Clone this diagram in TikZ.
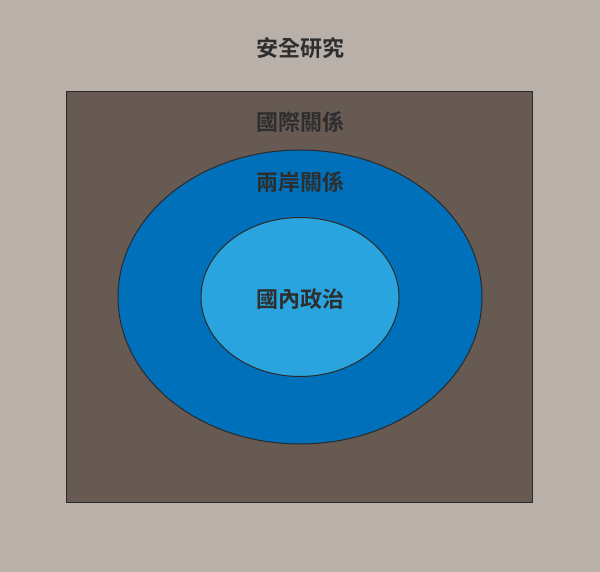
\documentclass[tikz,border=0pt]{standalone}
\usepackage{fontspec}
\usetikzlibrary{shapes.geometric}
\newfontfamily\cjk{Noto Sans CJK TC}[BoldFont={Noto Sans CJK TC Bold}]
\definecolor{bgc}{HTML}{B9B0A9}
\definecolor{boxc}{HTML}{665A53}
\definecolor{outc}{HTML}{0070BA}
\definecolor{inc}{HTML}{2AA4DF}
\definecolor{txtc}{HTML}{2E2E2E}
\definecolor{edgec}{HTML}{2A2A2A}
\begin{document}
\begin{tikzpicture}[x=1pt,y=-1pt,
  lbl/.style={font=\cjk\bfseries\fontsize{22}{26}\selectfont, text=txtc, inner sep=0pt},
  region/.style={draw=edgec, line width=1pt}]
\fill[bgc] (0,0) rectangle (600,572);
\useasboundingbox (0,0) rectangle (600,572);
\node[region, fill=boxc, rectangle, minimum width=466pt, minimum height=410pt, inner sep=0pt] (box) at (299.75,297) {};
\node[region, fill=outc, ellipse, minimum width=364pt, minimum height=294pt, inner sep=0pt] (outer) at (300,297) {};
\node[region, fill=inc, ellipse, minimum width=198pt, minimum height=159pt, inner sep=0pt] (inner) at (300,297) {};
\node[lbl] (title) at (300,48) {安全研究};
\node[lbl] (intl) at (300,122) {國際關係};
\node[lbl] (cross) at (300,182) {兩岸關係};
\node[lbl] (dom) at (300,299) {國內政治};
\end{tikzpicture}
\end{document}
